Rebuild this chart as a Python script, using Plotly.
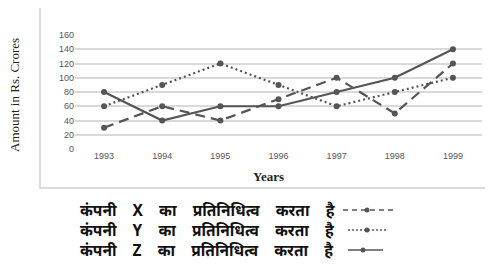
import plotly.graph_objects as go

years = ["1993", "1994", "1995", "1996", "1997", "1998", "1999"]
company_x = [30, 60, 40, 70, 100, 50, 120]
company_y = [60, 90, 120, 90, 60, 80, 100]
company_z = [80, 40, 60, 60, 80, 100, 140]
legend_labels = [
    "कंपनी X का प्रतिनिधित्व करता है",
    "कंपनी Y का प्रतिनिधित्व करता है",
    "कंपनी Z का प्रतिनिधित्व करता है",
]
y_ticks = [0, 20, 40, 60, 80, 100, 120, 140, 160]

# page body has an 8px margin; work in page coordinates and shift
OFF = 8
W, H = 485, 260
L, R, T, B = 75 - OFF, 11, 35 - OFF, 119
pw = W - L - R
ph = H - T - B

def px(x):
    return (x - OFF - L) / pw

def py(y):
    return (H - B - (y - OFF)) / ph

col = "#555555"
fig = go.Figure()
styles = [("10px,6px", company_x), ("2px,3px", company_y), ("solid", company_z)]
for dash, vals in styles:
    fig.add_trace(go.Scatter(
        x=years, y=vals, mode="lines+markers",
        line=dict(color=col, width=2.2, dash=dash),
        marker=dict(color=col, size=6),
        showlegend=False,
    ))

shapes = [dict(type="rect", xref="paper", yref="paper",
               x0=px(40), x1=px(491), y0=py(188), y1=py(5),
               line=dict(color="#d0d0d0", width=1.5), fillcolor="rgba(0,0,0,0)", layer="below")]
annotations = [
    dict(text="<b>Years</b>", xref="paper", yref="paper", x=px(268), y=py(176),
         showarrow=False, font=dict(family="Liberation Serif", size=13, color="#222"),
         xanchor="center", yanchor="middle"),
    dict(text="Amount in Rs. Crores", xref="paper", yref="paper", x=px(14), y=py(95),
         showarrow=False, textangle=-90, font=dict(family="Liberation Serif", size=13, color="#222"),
         xanchor="center", yanchor="middle"),
]
rows = [210, 230, 250]
samples = [("5px,4px", 343, 393, 367), ("2px,2px", 348, 387, 367), ("solid", 348, 383, 363)]
gap = "&nbsp;" * 3 + " "
for i, lab in enumerate(legend_labels):
    yy = rows[i]
    dash, sx0, sx1, dx = samples[i]
    spaced = gap.join(lab.split(" "))
    annotations.append(dict(text="<b>" + spaced + "</b>", xref="paper", yref="paper",
                            x=px(78), y=py(yy), showarrow=False, xanchor="left", yanchor="middle",
                            font=dict(family="Noto Sans, sans-serif", size=15.5, color="#111")))
    shapes.append(dict(type="line", xref="paper", yref="paper", x0=px(sx0), x1=px(sx1),
                       y0=py(yy), y1=py(yy), line=dict(color=col, width=1.5, dash=dash)))
    shapes.append(dict(type="circle", xref="paper", yref="paper", x0=px(dx - 2.5), x1=px(dx + 2.5),
                       y0=py(yy + 2.5), y1=py(yy - 2.5), fillcolor=col, line=dict(color=col, width=0)))

fig.update_layout(
    width=W, height=H, margin=dict(l=L, r=R, t=T, b=B),
    plot_bgcolor="white", paper_bgcolor="white",
    xaxis=dict(type="category", range=[-0.5, 6.5], showgrid=False, showline=False,
               ticks="", tickfont=dict(family="Liberation Sans", size=9, color=col)),
    yaxis=dict(range=[0, 160], tickvals=y_ticks, showgrid=True, gridcolor="#d9d9d9",
               gridwidth=1.5, zeroline=False, showline=False, ticks="",
               tickfont=dict(family="Liberation Sans", size=9, color=col)),
    shapes=shapes, annotations=annotations,
)
fig.write_html("out.html")
